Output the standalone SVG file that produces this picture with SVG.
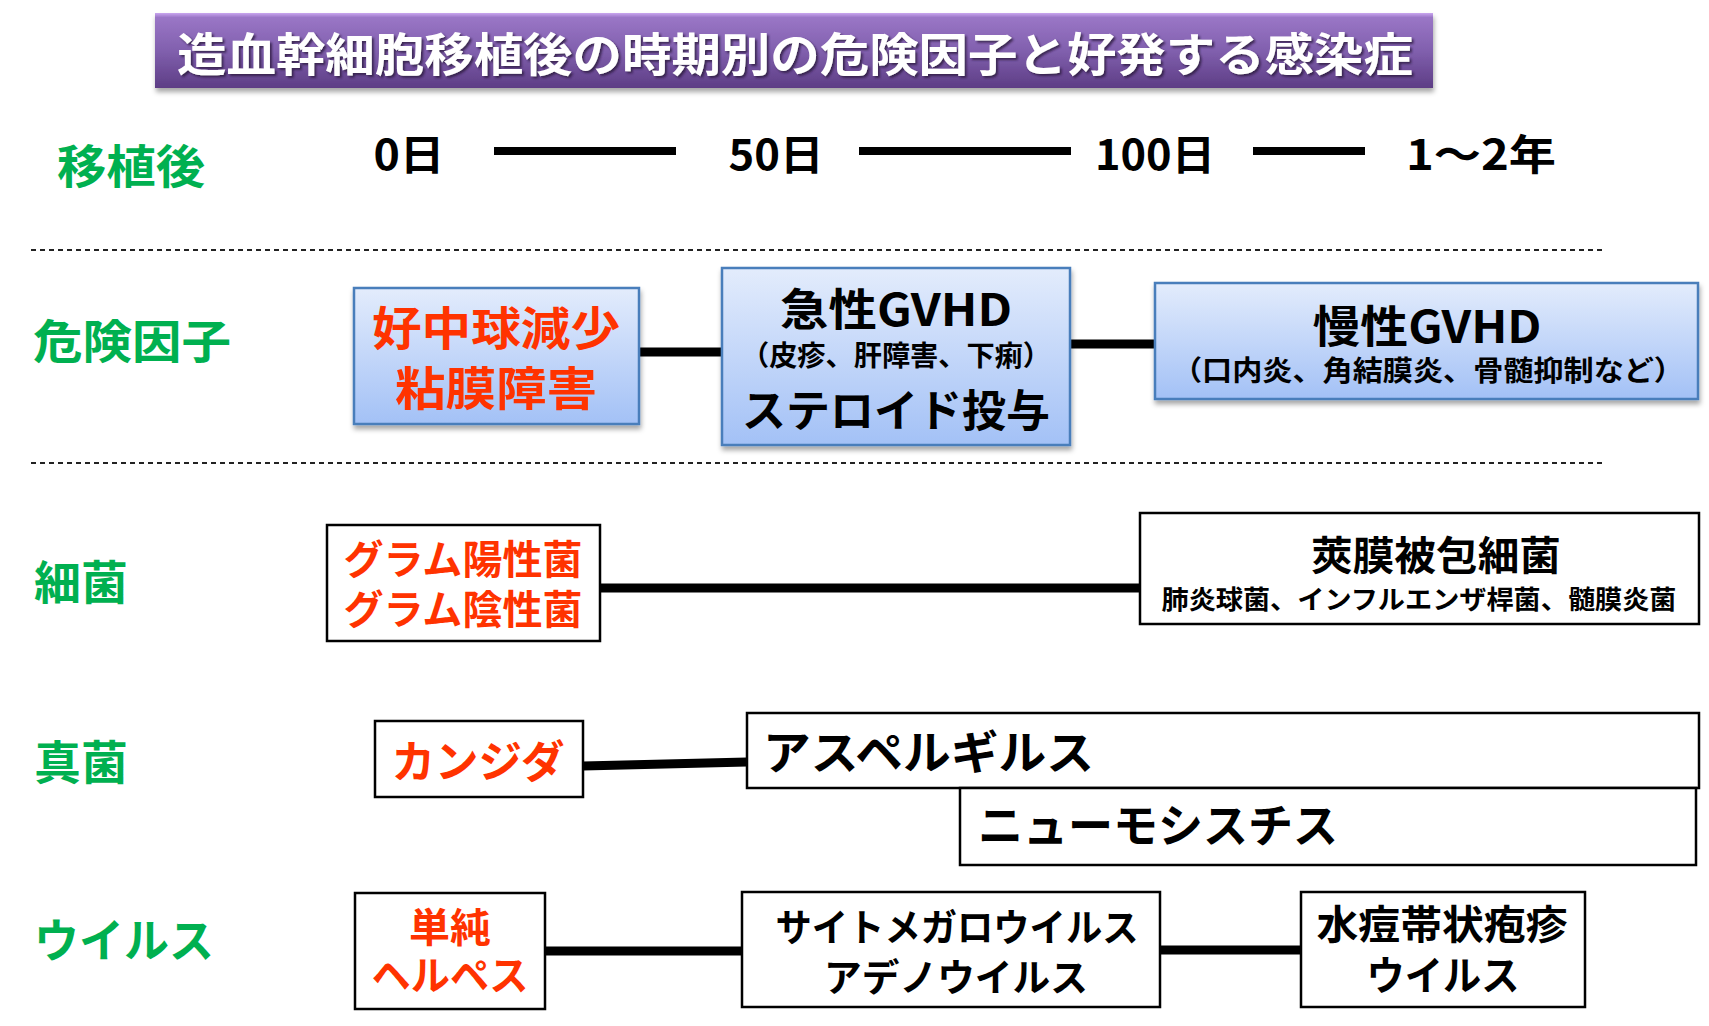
<svg xmlns="http://www.w3.org/2000/svg" width="1709" height="1026" viewBox="0 0 1709 1026">
<defs>
<linearGradient id="gTitle" x1="0" y1="0" x2="0" y2="1">
<stop offset="0" stop-color="#c9a6ef"/>
<stop offset="0.06" stop-color="#9a76c6"/>
<stop offset="0.5" stop-color="#8160ae"/>
<stop offset="1" stop-color="#5d3d85"/>
</linearGradient>
<linearGradient id="gBlue" x1="0" y1="0" x2="0" y2="1">
<stop offset="0" stop-color="#e3ecfc"/>
<stop offset="1" stop-color="#a3c1f6"/>
</linearGradient>
<filter id="sh" x="-5%" y="-5%" width="110%" height="120%">
<feDropShadow dx="1" dy="4" stdDeviation="2.5" flood-color="#000" flood-opacity="0.35"/>
</filter>
<filter id="tsh" x="-5%" y="-20%" width="110%" height="140%">
<feDropShadow dx="2" dy="2" stdDeviation="1" flood-color="#2a1840" flood-opacity="0.8"/>
</filter>
</defs>
<style>
text { font-family: "Noto Sans CJK JP", "Noto Sans CJK SC", sans-serif; font-weight: bold; }
.c { text-anchor: middle; }
.green { fill: #00b050; font-size: 46px; }
.red { fill: #ff3300; }
.blk { fill: #000; }
.blue { fill: url(#gBlue); stroke: #4a7ebb; stroke-width: 2.5; filter: url(#sh); }
.wb { fill: #fff; stroke: #000; stroke-width: 2.5; }
.conn line { stroke: #000; stroke-width: 9; }
.dash { stroke: #222; stroke-width: 2; stroke-dasharray: 5 4; }
.tl { stroke: #000; stroke-width: 8; }
</style>
<rect width="1709" height="1026" fill="#fff"/>

<g id="title">
<rect x="155" y="13" width="1278" height="75" fill="url(#gTitle)" filter="url(#sh)"/>
<text x="795" y="71" class="c" fill="#fff" font-size="46" textLength="1236" lengthAdjust="spacingAndGlyphs" filter="url(#tsh)">造血幹細胞移植後の時期別の危険因子と好発する感染症</text>
</g>

<g id="row-labels">
<text x="57" y="183" class="green" textLength="148" lengthAdjust="spacingAndGlyphs">移植後</text>
<text x="33" y="358" class="green" textLength="198" lengthAdjust="spacingAndGlyphs">危険因子</text>
<text x="34" y="599" class="green" textLength="94" lengthAdjust="spacingAndGlyphs">細菌</text>
<text x="34" y="779" class="green" textLength="94" lengthAdjust="spacingAndGlyphs">真菌</text>
<text x="34" y="957" class="green" textLength="180" lengthAdjust="spacingAndGlyphs">ウイルス</text>
</g>

<g id="timeline">
<text x="409" y="170" class="c blk" font-size="42" textLength="71" lengthAdjust="spacingAndGlyphs">0日</text>
<line x1="494" y1="151" x2="676" y2="151" class="tl"/>
<text x="776" y="170" class="c blk" font-size="42" textLength="95" lengthAdjust="spacingAndGlyphs">50日</text>
<line x1="859" y1="151" x2="1071" y2="151" class="tl"/>
<text x="1155" y="170" class="c blk" font-size="42" textLength="120" lengthAdjust="spacingAndGlyphs">100日</text>
<line x1="1253" y1="151" x2="1365" y2="151" class="tl"/>
<text x="1481" y="170" class="c blk" font-size="42" textLength="150" lengthAdjust="spacingAndGlyphs">1～2年</text>
</g>

<g id="separators">
<line x1="31" y1="250" x2="1605" y2="250" class="dash"/>
<line x1="31" y1="463" x2="1605" y2="463" class="dash"/>
</g>

<g class="conn" id="connectors">
<line x1="639" y1="352" x2="722" y2="352"/>
<line x1="1070" y1="344" x2="1155" y2="344"/>
<line x1="600" y1="588" x2="1140" y2="588"/>
<line x1="583" y1="766" x2="747" y2="762"/>
<line x1="545" y1="951" x2="742" y2="951"/>
<line x1="1160" y1="950" x2="1301" y2="950"/>
</g>

<g id="neutropenia">
<rect x="354" y="288" width="285" height="136" class="blue"/>
<text x="496" y="345" class="c red" font-size="46" textLength="248" lengthAdjust="spacingAndGlyphs">好中球減少</text>
<text x="496" y="405" class="c red" font-size="46" textLength="202" lengthAdjust="spacingAndGlyphs">粘膜障害</text>
</g>

<g id="acute-gvhd">
<rect x="722" y="268" width="348" height="177" class="blue"/>
<text x="896" y="326" class="c blk" font-size="44" textLength="232" lengthAdjust="spacingAndGlyphs">急性GVHD</text>
<text x="896" y="366" class="c blk" font-size="28" textLength="310" lengthAdjust="spacingAndGlyphs">（皮疹、肝障害、下痢）</text>
<text x="896" y="427" class="c blk" font-size="44" textLength="308" lengthAdjust="spacingAndGlyphs">ステロイド投与</text>
</g>

<g id="chronic-gvhd">
<rect x="1155" y="283" width="543" height="116" class="blue"/>
<text x="1427" y="343" class="c blk" font-size="44" textLength="229" lengthAdjust="spacingAndGlyphs">慢性GVHD</text>
<text x="1428" y="381" class="c blk" font-size="28" textLength="512" lengthAdjust="spacingAndGlyphs">（口内炎、角結膜炎、骨髄抑制など）</text>
</g>

<g id="gram">
<rect x="327" y="525" width="273" height="116" class="wb"/>
<text x="463" y="574" class="c red" font-size="40" textLength="239" lengthAdjust="spacingAndGlyphs">グラム陽性菌</text>
<text x="463" y="624" class="c red" font-size="40" textLength="239" lengthAdjust="spacingAndGlyphs">グラム陰性菌</text>
</g>

<g id="encapsulated">
<rect x="1140" y="513" width="559" height="111" class="wb"/>
<text x="1436" y="570" class="c blk" font-size="40" textLength="250" lengthAdjust="spacingAndGlyphs">莢膜被包細菌</text>
<text x="1419" y="609" class="c blk" font-size="26" textLength="515" lengthAdjust="spacingAndGlyphs">肺炎球菌、インフルエンザ桿菌、髄膜炎菌</text>
</g>

<g id="candida">
<rect x="375" y="721" width="208" height="76" class="wb"/>
<text x="478" y="778" class="c red" font-size="44" textLength="173" lengthAdjust="spacingAndGlyphs">カンジダ</text>
</g>

<g id="aspergillus">
<rect x="747" y="713" width="952" height="75" class="wb"/>
<text x="763" y="769" class="blk" font-size="46" textLength="331" lengthAdjust="spacingAndGlyphs">アスペルギルス</text>
</g>

<g id="pneumocystis">
<rect x="960" y="788" width="736" height="77" class="wb"/>
<text x="978" y="842" class="blk" font-size="46" textLength="360" lengthAdjust="spacingAndGlyphs">ニューモシスチス</text>
</g>

<g id="hsv">
<rect x="355" y="893" width="190" height="116" class="wb"/>
<text x="450" y="942" class="c red" font-size="40" textLength="82" lengthAdjust="spacingAndGlyphs">単純</text>
<text x="450" y="990" class="c red" font-size="40" textLength="157" lengthAdjust="spacingAndGlyphs">ヘルペス</text>
</g>

<g id="cmv">
<rect x="742" y="892" width="418" height="115" class="wb"/>
<text x="957" y="941" class="c blk" font-size="38" textLength="363" lengthAdjust="spacingAndGlyphs">サイトメガロウイルス</text>
<text x="956" y="991" class="c blk" font-size="38" textLength="264" lengthAdjust="spacingAndGlyphs">アデノウイルス</text>
</g>

<g id="vzv">
<rect x="1301" y="892" width="284" height="115" class="wb"/>
<text x="1442" y="939" class="c blk" font-size="40" textLength="251" lengthAdjust="spacingAndGlyphs">水痘帯状疱疹</text>
<text x="1443" y="990" class="c blk" font-size="40" textLength="153" lengthAdjust="spacingAndGlyphs">ウイルス</text>
</g>
</svg>
